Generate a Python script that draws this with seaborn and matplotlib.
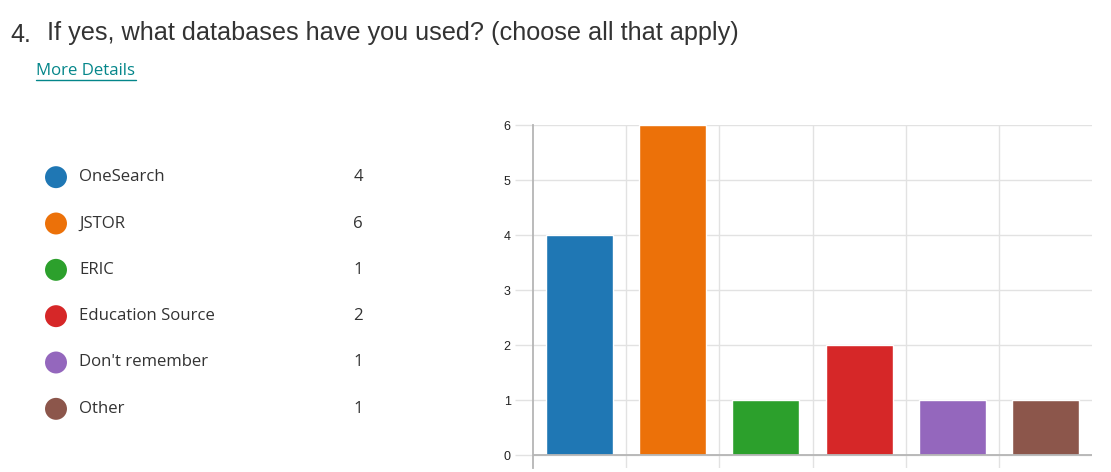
import numpy as np
import pandas as pd
import matplotlib.pyplot as plt
import seaborn as sns

# Survey answers
options = ["OneSearch", "JSTOR", "ERIC", "Education Source", "Don't remember", "Other"]
counts = [4, 6, 1, 2, 1, 1]
colors = ["#1f77b4", "#ec7109", "#2ca02c", "#d62728", "#9467bd", "#8c564b"]
y_ticks = [0, 1, 2, 3, 4, 5, 6]

title_num = "4."
title = "If yes, what databases have you used? (choose all that apply)"
link_text = "More Details"

df = pd.DataFrame({"option": options, "count": counts})

sns.set_theme(style="white")
plt.rcParams["font.family"] = ["Liberation Sans", "DejaVu Sans"]

fig = plt.figure(figsize=(11.11, 4.72), dpi=100)

# Title and link
fig.text(10 / 1111, 1 - 35 / 472, title_num, fontsize=18, color="#333333", va="center")
fig.text(47 / 1111, 1 - 33 / 472, title, fontsize=18.2, color="#333333", va="center")
fig.text(36 / 1111, 1 - 71 / 472, link_text, fontsize=12.1, color="#04868a",
         va="center", family=["Open Sans", "DejaVu Sans"])
fig.add_artist(plt.Line2D([36 / 1111, 136 / 1111], [1 - 80 / 472, 1 - 80 / 472],
                          color="#04868a", lw=1))

# Legend list on the left
ax_leg = fig.add_axes([0, 1 - 432 / 472, 0.45, (432 - 154) / 472])
ax_leg.set_xlim(0, 0.45 * 1111)
ax_leg.set_ylim(len(options) - 0.5, -0.5)
ax_leg.axis("off")
rows = np.arange(len(options))
ax_leg.scatter(np.full(len(options), 56), rows, s=250, c=colors, edgecolors="none")
for i, (name, n) in enumerate(zip(options, counts)):
    ax_leg.text(79, i, name, fontsize=12.1, color="#333333", va="center",
                family=["Open Sans", "DejaVu Sans"])
    ax_leg.text(358, i, str(n), fontsize=12.1, color="#333333", va="center", ha="center",
                family=["Open Sans", "DejaVu Sans"])

# Bar chart
ax = fig.add_axes([533 / 1111, 1 - 468 / 472, 559 / 1111, (468 - 125) / 472])
sns.barplot(data=df, x="option", y="count", hue="option", palette=colors,
            width=0.72, legend=False, ax=ax, saturation=1)
ax.set_xlim(-0.5, len(options) - 0.5)
ax.set_ylim(-0.236, 6)
ax.set_xlabel("")
ax.set_ylabel("")
ax.set_xticks(np.arange(0.5, len(options) - 0.5, 1), minor=True)
ax.set_xticks([])
ax.set_yticks(y_ticks)
ax.set_yticklabels([str(t) for t in y_ticks], fontsize=9, color="#222222")
ax.tick_params(axis="y", length=13, width=1, color="#e2e2e2", pad=3, left=True)
ax.tick_params(axis="x", which="minor", length=0)
ax.grid(axis="y", which="major", color="#e2e2e2", lw=1, zorder=0)
ax.grid(axis="x", which="minor", color="#e2e2e2", lw=1, zorder=0)
ax.set_axisbelow(True)
ax.axhline(0, color="#b5b5b5", lw=1.3, zorder=3)
for s in ["top", "right", "bottom"]:
    ax.spines[s].set_visible(False)
ax.spines["left"].set_color("#b5b5b5")
ax.spines["left"].set_linewidth(1.3)

fig.savefig("out.png", dpi=100)
